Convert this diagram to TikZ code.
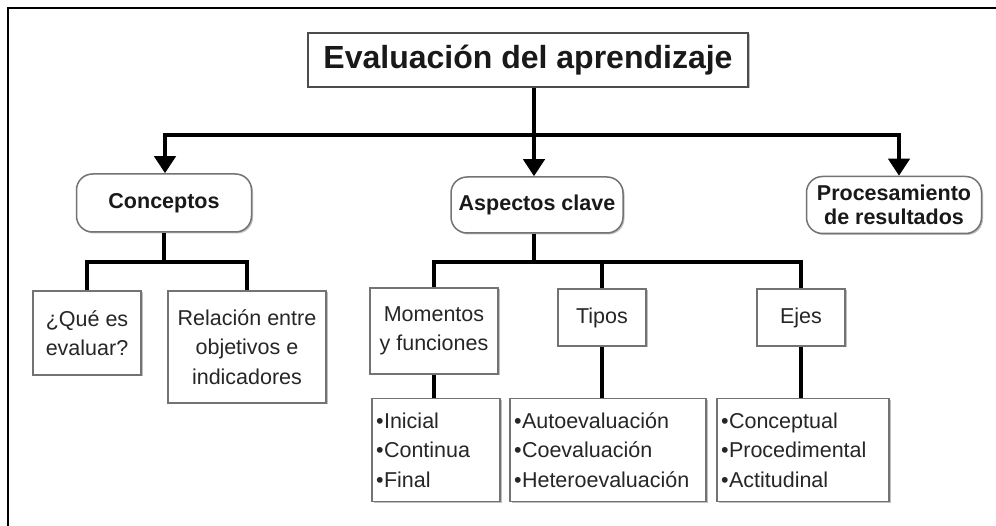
\documentclass[tikz,border=0pt]{standalone}
\usepackage{fontspec}
\setmainfont{Liberation Sans}
\usetikzlibrary{arrows.meta,shadows}
\newcommand{\bul}{\textbullet\kern0.5pt}
\tikzset{
 box/.style={draw=black!55, line width=1.5pt, fill=white, text=black!85,
   font=\fontsize{21.5}{29.5}\selectfont, align=center, inner sep=3pt,
   drop shadow={shadow xshift=1.5pt, shadow yshift=-1.5pt, fill=black!25, opacity=1}},
 rbox/.style={box, rounded corners=16pt, text=black!90, font=\bfseries\fontsize{21.5}{23.5}\selectfont},
 lbox/.style={box, align=left, inner xsep=4pt, minimum height=103pt},
 conn/.style={line width=4pt, draw=black},
 conarr/.style={conn, -{Triangle[width=21pt,length=17pt]}},
}
\begin{document}
\begin{tikzpicture}[x=1pt,y=-1pt]
\useasboundingbox (0,0) rectangle (996,526);
\fill[white] (0,0) rectangle (996,526);
\draw[line width=2.2pt] (996,8) -- (8,8) -- (8,526);

\node[box, draw=black!70, minimum width=440pt, minimum height=54pt, text=black!90,
  font=\bfseries\fontsize{32}{34}\selectfont] (title) at (528,60) {Evaluación del aprendizaje};

\node[rbox, minimum width=175pt, minimum height=58pt] (con) at (164,203) {Conceptos};
\node[rbox, minimum width=172pt, minimum height=56pt] (asp) at (537,205) {Aspectos clave};
\node[rbox, minimum width=175pt, minimum height=57pt] (proc) at (894,205) {Procesamiento\\de resultados};

\node[box, minimum width=108pt, minimum height=84pt] (q) at (87,333) {¿Qué es\\evaluar?};
\node[box, minimum width=158pt, minimum height=112pt] (rel) at (247,347) {Relación entre\\objetivos e\\indicadores};

\node[box, minimum width=128pt, minimum height=86pt] (mom) at (434,331) {Momentos\\y funciones};
\node[box, minimum width=88pt, minimum height=57pt] (tip) at (602,317.5) {Tipos};
\node[box, minimum width=88pt, minimum height=57pt] (eje) at (801,317.5) {Ejes};

\node[lbox, text width=120pt] (l1) at (436,450) {\bul Inicial\\\bul Continua\\\bul Final};
\node[lbox, text width=188pt] (l2) at (608,450) {\bul Autoevaluación\\\bul Coevaluación\\\bul Heteroevaluación};
\node[lbox, text width=164pt] (l3) at (803,450) {\bul Conceptual\\\bul Procedimental\\\bul Actitudinal};

\coordinate (j1) at (534,135);
\coordinate (jl) at (165,135);
\coordinate (jr) at (899,135);
\draw[conarr] (title.south -| j1) -- (asp.north -| j1);
\draw[conarr] (j1) -| (jl |- con.north);
\draw[conarr] (j1) -| (jr |- proc.north);

\coordinate (k1) at (164,262);
\draw[conn] (con.south) -- (k1);
\draw[conn] (q.north) |- (k1) -| (rel.north);

\coordinate (k2) at (534,262);
\draw[conn] (asp.south -| k2) -- (k2);
\draw[conn] (mom.north) |- (k2) -| (eje.north);
\draw[conn] (tip.north) -- (tip.north |- k2);

\draw[conn] (mom.south) -- (mom.south |- l1.north);
\draw[conn] (tip.south) -- (tip.south |- l2.north);
\draw[conn] (eje.south) -- (eje.south |- l3.north);
\end{tikzpicture}
\end{document}
